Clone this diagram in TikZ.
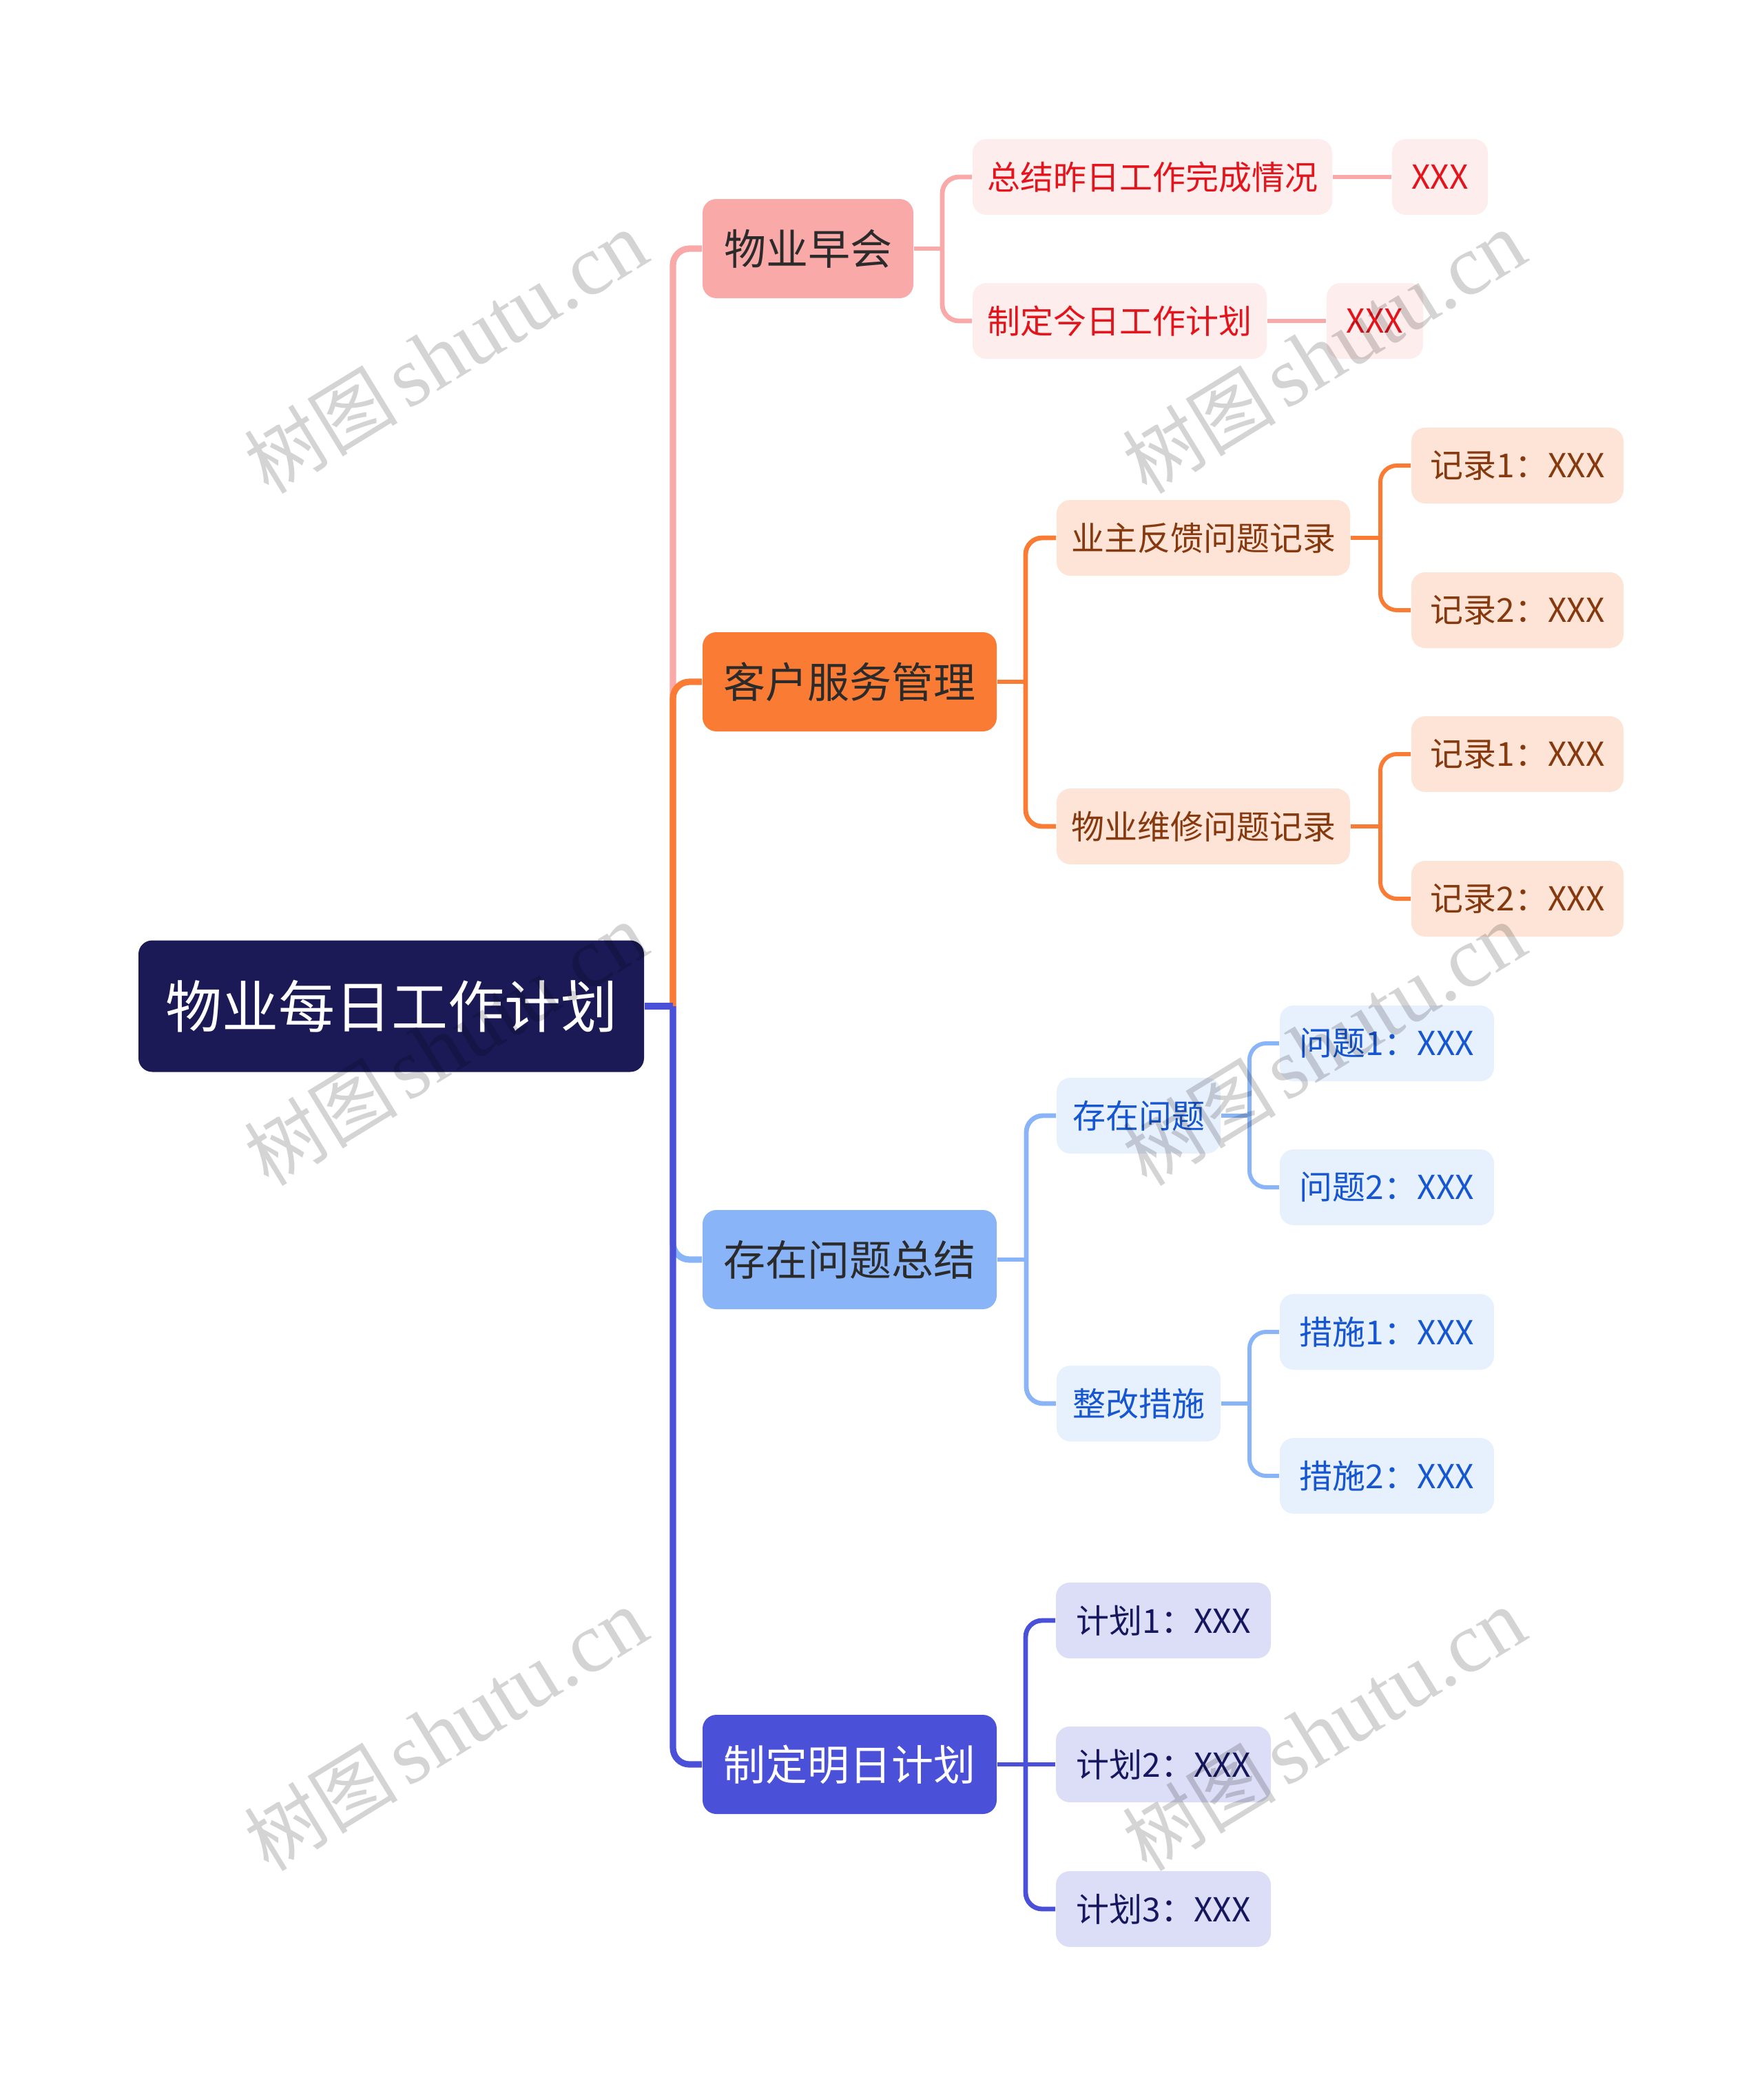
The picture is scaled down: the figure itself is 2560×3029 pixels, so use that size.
\documentclass[tikz,border=0pt]{standalone}
\usepackage{fontspec}
\newfontfamily\cjk{Noto Sans CJK SC}
\newfontfamily\wmserif{Liberation Serif}
\definecolor{rootc}{HTML}{1B1A57}
\definecolor{pinkc}{HTML}{F9A9A7}
\definecolor{pinkl}{HTML}{FDEDEC}
\definecolor{pinkt}{HTML}{E3141C}
\definecolor{orgc}{HTML}{FA7B33}
\definecolor{orgl}{HTML}{FDE4D6}
\definecolor{orgt}{HTML}{86390F}
\definecolor{lbc}{HTML}{8AB4F8}
\definecolor{lbl}{HTML}{E7F0FD}
\definecolor{lbt}{HTML}{1656D0}
\definecolor{indc}{HTML}{4A50D8}
\definecolor{indl}{HTML}{DCDDF7}
\definecolor{indt}{HTML}{16175E}
\definecolor{darkt}{HTML}{2B2B2B}
\begin{document}
\begin{tikzpicture}[x=0.25pt,y=-0.25pt,
  box/.style={rectangle, rounded corners=5pt, inner sep=0pt, align=center, font=\cjk},
  rootbox/.style={box, fill=rootc, text=white, minimum height=191*0.25pt, font=\cjk\fontsize{20.5pt}{24pt}\selectfont},
  lone/.style={box, minimum height=144*0.25pt, font=\cjk\fontsize{15.25pt}{18pt}\selectfont},
  ltwo/.style={box, minimum height=110*0.25pt, font=\cjk\fontsize{12pt}{14pt}\selectfont},
  pinkbox/.style={ltwo, fill=pinkl, text=pinkt},
  orgbox/.style={ltwo, fill=orgl, text=orgt},
  lbbox/.style={ltwo, fill=lbl, text=lbt},
  indbox/.style={ltwo, fill=indl, text=indt},
  trunk/.style={line width=2.3pt, rounded corners=6pt},
  cone/.style={line width=1.7pt, rounded corners=6pt},
  ctwo/.style={line width=1.5pt, rounded corners=6pt},
  wm/.style={text=black, text opacity=0.17, rotate=31.5, inner sep=0pt}
]
\useasboundingbox (0,0) rectangle (2560,3029);
\fill[white] (0,0) rectangle (2560,3029);

% nodes
\node[rootbox, minimum width=734*0.25pt] (root) at (568,1461) {物业每日工作计划};

\node[lone, fill=pinkc, text=darkt, minimum width=306*0.25pt] (m1) at (1173,361) {物业早会};
\node[lone, fill=orgc, text=darkt, minimum width=427*0.25pt] (m2) at (1233.5,990) {客户服务管理};
\node[lone, fill=lbc, text=darkt, minimum width=427*0.25pt] (m3) at (1233.5,1829) {存在问题总结};
\node[lone, fill=indc, text=white, minimum width=427*0.25pt] (m4) at (1233.5,2562) {制定明日计划};

\node[pinkbox, minimum width=522*0.25pt] (a1) at (1673,257) {总结昨日工作完成情况};
\node[pinkbox, minimum width=139*0.25pt] (a1x) at (2090.5,257) {XXX};
\node[pinkbox, minimum width=427*0.25pt] (a2) at (1625.5,466) {制定今日工作计划};
\node[pinkbox, minimum width=140*0.25pt] (a2x) at (1996,466) {XXX};

\node[orgbox, minimum width=426*0.25pt] (b1) at (1747,781) {业主反馈问题记录};
\node[orgbox, minimum width=308*0.25pt] (b11) at (2203,676) {记录1：XXX};
\node[orgbox, minimum width=308*0.25pt] (b12) at (2203,886) {记录2：XXX};
\node[orgbox, minimum width=426*0.25pt] (b2) at (1747,1200) {物业维修问题记录};
\node[orgbox, minimum width=308*0.25pt] (b21) at (2203,1095) {记录1：XXX};
\node[orgbox, minimum width=308*0.25pt] (b22) at (2203,1305) {记录2：XXX};

\node[lbbox, minimum width=238*0.25pt] (c1) at (1653,1620) {存在问题};
\node[lbbox, minimum width=311*0.25pt] (c11) at (2013.5,1515) {问题1：XXX};
\node[lbbox, minimum width=311*0.25pt] (c12) at (2013.5,1724) {问题2：XXX};
\node[lbbox, minimum width=238*0.25pt] (c2) at (1653,2038) {整改措施};
\node[lbbox, minimum width=311*0.25pt] (c21) at (2013.5,1934) {措施1：XXX};
\node[lbbox, minimum width=311*0.25pt] (c22) at (2013.5,2143) {措施2：XXX};

\node[indbox, minimum width=312*0.25pt] (d1) at (1689,2353) {计划1：XXX};
\node[indbox, minimum width=312*0.25pt] (d2) at (1689,2562) {计划2：XXX};
\node[indbox, minimum width=312*0.25pt] (d3) at (1689,2772) {计划3：XXX};

% junction coordinates
\coordinate (jr) at (977,1461);
\coordinate (jm1) at (1368,361);
\coordinate (jm2) at (1489,990);
\coordinate (jm3) at (1490,1829);
\coordinate (jm4) at (1489,2562);
\coordinate (jb1) at (2004,781);
\coordinate (jb2) at (2004,1200);
\coordinate (jc1) at (1814,1620);
\coordinate (jc2) at (1814,2038);

% trunk connectors
\draw[trunk, pinkc] (jr) |- (m1.west);
\draw[trunk, orgc] (jr) |- (m2.west);
\draw[trunk, lbc] (jr) |- (m3.west);
\draw[trunk, indc] (jr) |- (m4.west);
\draw[trunk, indc, rounded corners=0pt] (root.east) -- (jr);

% pink branch
\draw[cone, pinkc] (m1.east) -- (jm1);
\draw[cone, pinkc] (jm1) |- (a1.west);
\draw[cone, pinkc] (jm1) |- (a2.west);
\draw[ctwo, pinkc] (a1.east) -- (a1x.west);
\draw[ctwo, pinkc] (a2.east) -- (a2x.west);

% orange branch
\draw[cone, orgc] (m2.east) -- (jm2);
\draw[cone, orgc] (jm2) |- (b1.west);
\draw[cone, orgc] (jm2) |- (b2.west);
\draw[ctwo, orgc] (b1.east) -- (jb1);
\draw[ctwo, orgc] (jb1) |- (b11.west);
\draw[ctwo, orgc] (jb1) |- (b12.west);
\draw[ctwo, orgc] (b2.east) -- (jb2);
\draw[ctwo, orgc] (jb2) |- (b21.west);
\draw[ctwo, orgc] (jb2) |- (b22.west);

% light blue branch
\draw[cone, lbc] (m3.east) -- (jm3);
\draw[cone, lbc] (jm3) |- (c1.west);
\draw[cone, lbc] (jm3) |- (c2.west);
\draw[ctwo, lbc] (c1.east) -- (jc1);
\draw[ctwo, lbc] (jc1) |- (c11.west);
\draw[ctwo, lbc] (jc1) |- (c12.west);
\draw[ctwo, lbc] (c2.east) -- (jc2);
\draw[ctwo, lbc] (jc2) |- (c21.west);
\draw[ctwo, lbc] (jc2) |- (c22.west);

% indigo branch
\draw[cone, indc] (m4.east) -- (jm4);
\draw[cone, indc] (jm4) |- (d1.west);
\draw[cone, indc] (jm4) -- (d2.west);
\draw[cone, indc] (jm4) |- (d3.west);

% watermarks
\foreach \i/\wx/\wy in {1/647/512, 2/1922/512, 3/647/1517, 4/1922/1517, 5/647/2512, 6/1922/2512}{
  \node[wm] (wm\i) at (\wx,\wy) {{\cjk\fontsize{28pt}{30pt}\selectfont 树图} {\wmserif\fontsize{31pt}{33pt}\selectfont shutu.cn}};
}
\end{tikzpicture}
\end{document}
